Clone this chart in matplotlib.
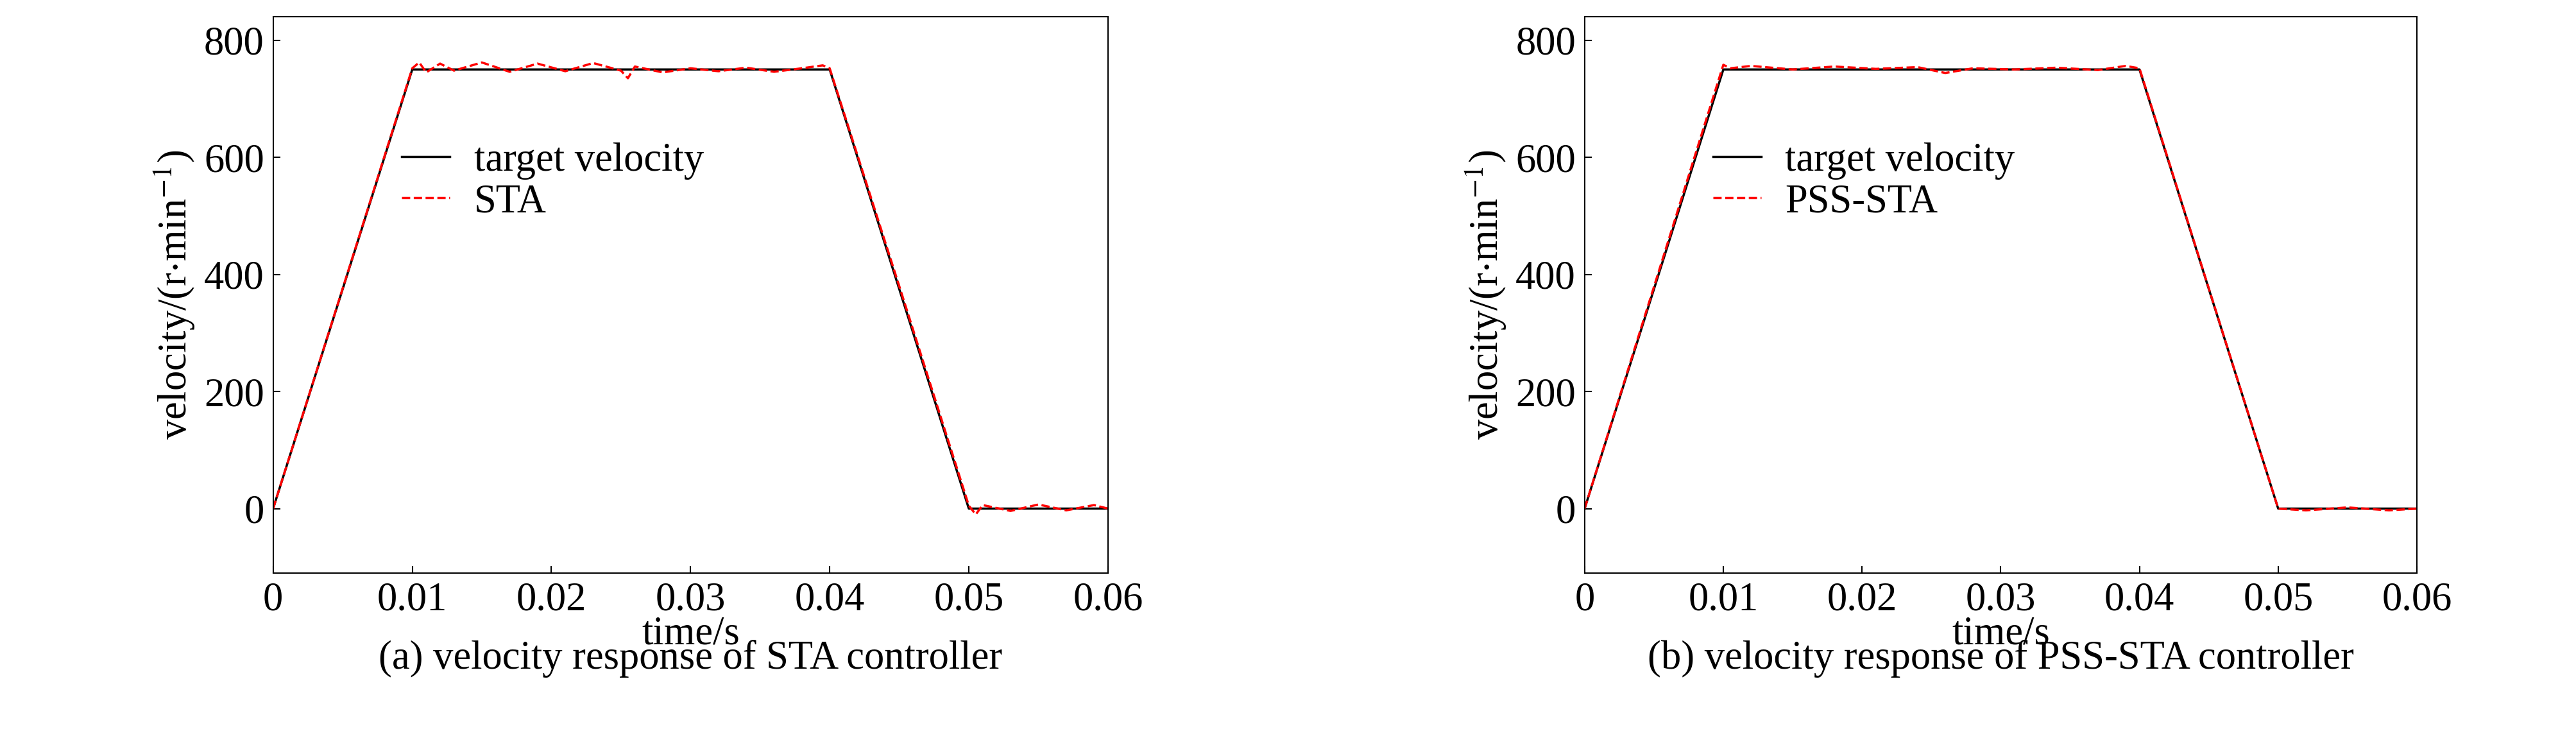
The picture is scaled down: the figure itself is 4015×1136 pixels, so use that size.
import matplotlib
matplotlib.use("Agg")
import matplotlib.pyplot as plt

plt.rcParams['font.family'] = ['Liberation Serif', 'DejaVu Serif']
plt.rcParams['mathtext.fontset'] = 'stix'

target_t = [0, 0.01, 0.04, 0.05, 0.06]
target_v = [0, 750, 750, 0, 0]

sta_t = [0, 0.01, 0.0105, 0.011, 0.012, 0.013, 0.015, 0.017, 0.019, 0.021, 0.023, 0.025, 0.0255, 0.026, 0.028, 0.030, 0.032, 0.034, 0.036, 0.038, 0.0395, 0.040, 0.045, 0.050, 0.0505, 0.051, 0.053, 0.055, 0.057, 0.059, 0.060]
sta_v = [0, 752, 762, 745, 760, 748, 762, 746, 760, 747, 761, 748, 735, 755, 745, 752, 747, 753, 746, 752, 757, 752, 380, 5, -10, 6, -4, 7, -3, 6, 0]

pss_t = [0, 0.01, 0.0105, 0.012, 0.015, 0.018, 0.021, 0.024, 0.026, 0.028, 0.031, 0.034, 0.037, 0.039, 0.040, 0.045, 0.050, 0.052, 0.055, 0.058, 0.060]
pss_v = [0, 758, 752, 756, 750, 755, 751, 754, 744, 752, 750, 753, 749, 756, 752, 376, 0, -3, 2, -3, 0]

fs = 45
fig = plt.figure(figsize=(40.16, 11.36), dpi=100)
panels = [
    ([0.106, 0.214, 0.324, 0.763], sta_t, sta_v, 'STA', '(a) velocity response of STA controller'),
    ([0.615, 0.214, 0.323, 0.763], pss_t, pss_v, 'PSS-STA', '(b) velocity response of PSS-STA controller'),
]
for rect, t, v, lab, cap in panels:
    ax = fig.add_axes(rect)
    ax.plot(target_t, target_v, color='black', lw=2.5, label='target velocity')
    ax.plot(t, v, color='red', lw=2.5, ls='--', label=lab)
    ax.set_xlim(0, 0.06)
    ax.set_ylim(-110, 840)
    ax.set_xticks([0, 0.01, 0.02, 0.03, 0.04, 0.05, 0.06])
    ax.set_xticklabels(['0', '0.01', '0.02', '0.03', '0.04', '0.05', '0.06'])
    ax.set_yticks([0, 200, 400, 600, 800])
    ax.tick_params(labelsize=fs, direction='in', length=8, width=1.5, pad=10)
    for s in ax.spines.values():
        s.set_linewidth(1.5)
    ax.set_xlabel('time/s', fontsize=fs, labelpad=-4)
    ax.set_ylabel(r'velocity/(r$\cdot$min$^{-1}$)', fontsize=fs, labelpad=8)
    ax.legend(loc='upper left', bbox_to_anchor=(0.13, 0.81), frameon=False, fontsize=fs,
              handlelength=1.2, handletextpad=0.6, labelspacing=0.1, borderpad=0)
    cx = rect[0] + rect[2] / 2
    fig.text(cx, 0.07, cap, ha='center', va='bottom', fontsize=fs)

fig.savefig('out.png', dpi=100)
